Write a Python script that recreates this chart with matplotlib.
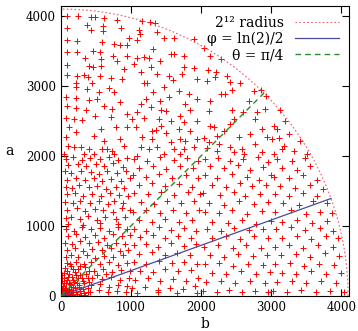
import numpy as np
import matplotlib
matplotlib.use("Agg")
import matplotlib.pyplot as plt

# --- data: b = horizontal, a = vertical ---
b_upper = [85, 246, 436, 488, 616, 796, 81, 370, 436, 607, 607, 863, 81, 237, 588, 758, 844, 948, 972,
           81, 228, 460, 559, 739, 948, 341, 578, 806, 81, 403, 465, 569, 901, 85, 228, 332, 389, 559,
           711, 877, 213, 450,
           1161, 1270, 1341, 1114, 1128, 1365, 1478, 1090, 1611, 1317, 1896, 1080, 1185, 1256, 1412,
           1564, 1611, 1753, 1042, 1279, 1753, 1896, 1137, 1374, 1540, 1730, 1602, 1185, 1232, 1943,
           2048, 2133, 2285, 2095, 2219, 2204, 2370, 2418, 2560, 2086,
           213, 379, 545, 687, 758, 71, 213, 403, 521, 844, 85, 213, 356, 616, 735, 71, 190, 308, 483,
           711, 948, 569, 782, 948, 118, 71, 213, 474, 616, 844, 95, 190, 284, 403, 593, 664, 735, 901,
           47, 332, 474, 758,
           1317, 1469, 1682, 1825, 1208, 1137, 1412, 1540, 1777, 1943, 1090, 1279, 1422, 1493, 1706,
           1848, 1019, 1185, 1398, 1564, 1753, 1943, 1066, 1303, 1351, 1422, 1493, 1682, 1848, 1161,
           1303, 1564, 1706, 1777, 1943, 1137, 1256, 1374, 1611, 1753, 1896, 1090, 1469, 1706,
           2133, 2285, 2347, 2441, 2749, 2678, 2441, 2110, 2915, 2797, 2133, 2181, 2418, 2465, 2593,
           2773, 2323, 2038, 2228, 2536, 2702, 2939, 2868, 2110, 2252, 2418, 2584, 2773, 2086, 2228,
           2465, 2607, 2868,
           3128, 3199, 3033, 3081, 3247, 3010, 3105, 3176, 3152, 3318, 3413, 3507, 3033,
           2854, 2929]
a_upper = [3991, 3991, 3981, 3981, 3967, 3943, 3819, 3872, 3800, 3848, 3786, 3824, 3648, 3643, 3619, 3596,
           3581, 3581, 3681, 3477, 3477, 3500, 3477, 3429, 3429, 3391, 3381, 3358, 3300, 3286, 3262,
           3286, 3239, 3153, 3143, 3153, 3129, 3134, 3105, 3096, 3039, 3039,
           3919, 3905, 3891, 3795, 3738, 3762, 3677, 3653, 3677, 3524, 3667, 3391, 3415, 3391, 3358,
           3453, 3453, 3419, 3310, 3262, 3262, 3248, 3191, 3167, 3134, 3167, 3086, 3039, 3039, 3096,
           3534, 3419, 3381, 3229, 3191, 3120, 3134, 3058, 3039, 3072,
           2977, 2953, 2915, 2963, 2906, 2834, 2820, 2801, 2811, 2773, 2715, 2677, 2658, 2715, 2668,
           2535, 2525, 2516, 2573, 2549, 2596, 2382, 2406, 2406, 2406, 2263, 2335, 2287, 2216, 2239,
           2144, 2120, 2120, 2097, 2097, 2097, 2073, 2144, 2025, 2025, 2025, 2025,
           2906, 2977, 2930, 2882, 2811, 2739, 2787, 2834, 2739, 2811, 2620, 2692, 2658, 2644, 2573,
           2658, 2525, 2535, 2525, 2501, 2477, 2501, 2406, 2358, 2368, 2430, 2325, 2382, 2358, 2263,
           2239, 2192, 2239, 2216, 2239, 2120, 2097, 2120, 2097, 2097, 2120, 2001, 2025, 2025,
           2787, 2882, 2882, 2944, 2930, 2787, 2658, 2644, 2668, 2620, 2430, 2406, 2454, 2525, 2630,
           2525, 2358, 2249, 2287, 2263, 2311, 2263, 2382, 2192, 2168, 2120, 2097, 2168, 2106, 2073,
           2049, 2025, 2049,
           2658, 2501, 2430, 2382, 2311, 2239, 2249, 2144, 2097, 2073, 2216, 2025, 2025,
           2944, 2848]

lower_points = [
    # b 0-1000, a 1000-2000
    (72, 1950), (180, 1985), (300, 1940), (420, 1975), (560, 1960), (690, 1990), (820, 1945), (950, 1970),
    (95, 1870), (240, 1890), (365, 1850), (500, 1880), (610, 1860), (745, 1895), (880, 1840),
    (65, 1780), (150, 1760), (290, 1790), (430, 1770), (540, 1740), (660, 1785), (800, 1755), (930, 1790),
    (88, 1660), (210, 1690), (340, 1650), (470, 1680), (590, 1640), (720, 1670), (860, 1640), (980, 1690),
    (70, 1560), (160, 1540), (260, 1580), (395, 1550), (520, 1570), (640, 1530), (780, 1560), (905, 1540),
    (92, 1450), (200, 1470), (320, 1430), (450, 1460), (575, 1420), (700, 1470), (830, 1440), (960, 1420),
    (66, 1340), (170, 1320), (280, 1360), (410, 1330), (540, 1350), (670, 1310), (760, 1350), (890, 1330),
    (85, 1230), (230, 1250), (350, 1210), (480, 1240), (600, 1220), (740, 1200), (870, 1250), (990, 1220),
    (72, 1110), (150, 1130), (270, 1100), (390, 1140), (510, 1090), (630, 1120), (780, 1100), (920, 1130),
    (95, 1030), (320, 1010), (560, 1040), (820, 1020),
    # b 1000-2000, a 1000-2000
    (1040, 1960), (1230, 1930), (1420, 1985), (1610, 1945), (1800, 1970), (1960, 1925),
    (1120, 1830), (1320, 1860), (1500, 1810), (1700, 1850), (1890, 1820),
    (1030, 1720), (1210, 1700), (1400, 1740), (1590, 1690), (1780, 1730), (1960, 1690),
    (1110, 1590), (1300, 1610), (1490, 1570), (1680, 1600), (1870, 1560),
    (1050, 1470), (1240, 1450), (1430, 1490), (1620, 1440), (1810, 1480), (1990, 1450),
    (1140, 1340), (1330, 1310), (1520, 1360), (1710, 1320), (1900, 1350),
    (1030, 1200), (1220, 1230), (1410, 1190), (1600, 1220), (1790, 1180), (1970, 1220),
    (1110, 1080), (1300, 1050), (1490, 1100), (1680, 1060), (1870, 1090),
    # b 2000-3000, a 1000-2000
    (2050, 1950), (2240, 1975), (2410, 1925), (2600, 1960), (2810, 1990), (2950, 1910),
    (2130, 1850), (2330, 1820), (2520, 1870), (2700, 1800), (2880, 1845),
    (2060, 1720), (2230, 1690), (2440, 1740), (2650, 1700), (2830, 1660), (2990, 1730),
    (2150, 1590), (2360, 1560), (2560, 1610), (2720, 1570), (2920, 1580),
    (2030, 1470), (2270, 1440), (2470, 1490), (2630, 1420), (2840, 1460),
    (2110, 1330), (2330, 1300), (2540, 1350), (2760, 1310), (2950, 1340),
    (2060, 1200), (2250, 1180), (2440, 1220), (2660, 1170), (2870, 1210),
    (2150, 1060), (2380, 1040), (2580, 1080), (2790, 1030), (2990, 1070),
    # b 3000-4100, a 1000-2000
    (3080, 1960), (3290, 1930), (3480, 1975),
    (3150, 1830), (3370, 1800), (3560, 1850),
    (3040, 1700), (3250, 1680), (3460, 1720), (3660, 1650),
    (3130, 1570), (3340, 1540), (3550, 1590), (3740, 1520),
    (3060, 1450), (3260, 1420), (3460, 1470), (3650, 1430),
    (3170, 1320), (3390, 1300), (3600, 1350), (3800, 1320),
    (3050, 1200), (3280, 1220), (3490, 1170), (3700, 1200), (3870, 1180),
    (3150, 1060), (3370, 1080), (3580, 1040), (3790, 1070),
    # b 0-1000, a 0-1000 (outer part)
    (70, 960), (190, 930), (300, 980), (430, 950), (560, 970), (690, 930), (820, 990), (950, 950),
    (95, 860), (220, 880), (350, 840), (480, 870), (610, 830), (740, 880), (870, 850), (990, 870),
    (60, 760), (160, 740), (280, 780), (400, 750), (530, 770), (660, 730), (790, 760), (920, 740),
    (85, 660), (200, 680), (320, 640), (450, 670), (580, 650), (710, 690), (840, 640), (960, 660),
    (70, 560), (140, 590), (250, 550), (370, 580), (490, 540), (620, 570), (750, 550), (880, 580),
    (90, 470), (210, 490), (330, 450), (430, 480), (560, 460), (690, 480), (820, 440), (950, 470),
    (470, 360), (600, 380), (730, 340), (860, 370), (980, 350), (520, 300), (650, 310),
    (450, 260), (580, 240), (710, 270), (840, 230), (970, 260),
    (430, 150), (560, 170), (690, 130), (820, 160), (950, 140),
    (420, 60), (540, 80), (670, 50), (800, 70), (930, 60),
    # b 0-450, a 0-450 (dense cluster at the origin)
    (60, 400), (150, 420), (250, 380), (340, 410), (400, 360),
    (50, 330), (120, 310), (200, 340), (280, 300), (360, 320),
    (40, 250), (100, 270), (170, 230), (240, 260), (310, 220), (380, 250),
    (70, 190), (130, 170), (190, 200), (260, 160), (330, 180), (400, 200),
    (30, 140), (80, 120), (140, 150), (200, 110), (260, 130), (320, 100), (380, 120),
    (50, 80), (100, 60), (150, 90), (210, 50), (270, 70), (330, 40), (390, 60),
    (30, 40), (60, 30), (90, 20), (130, 35), (170, 15), (230, 25), (290, 15), (350, 20),
    (20, 100), (15, 60), (10, 25), (25, 15), (45, 10), (70, 8), (110, 10),
    (40, 180), (20, 220), (90, 230), (110, 190), (160, 270), (220, 300), (300, 260),
    (60, 120), (120, 100), (40, 60), (80, 90), (160, 60), (180, 130), (230, 180),
    (20, 300), (90, 350), (180, 380), (270, 420), (130, 450),
    (35, 25), (55, 45), (75, 65), (25, 75), (95, 40), (115, 70), (140, 30),
    # b 1000-2000, a 0-1000
    (1050, 960), (1220, 930), (1400, 980), (1570, 940), (1750, 970), (1930, 925),
    (1130, 840), (1310, 870), (1490, 820), (1670, 860), (1850, 830),
    (1040, 720), (1210, 740), (1390, 700), (1570, 750), (1750, 710), (1930, 740),
    (1120, 600), (1300, 620), (1480, 580), (1660, 610), (1840, 590),
    (1040, 480), (1220, 460), (1400, 500), (1580, 470), (1760, 490), (1940, 450),
    (1130, 360), (1310, 340), (1490, 380), (1670, 350), (1850, 370),
    (1060, 230), (1240, 250), (1420, 210), (1600, 240), (1780, 220), (1960, 260),
    (1020, 110), (1200, 130), (1380, 90), (1560, 120), (1740, 100), (1920, 140),
    (1090, 40), (1380, 50), (1650, 35), (1940, 45),
    # b 2000-3000, a 0-1000
    (2080, 960), (2280, 930), (2470, 975), (2680, 940), (2880, 960),
    (2150, 830), (2350, 860), (2560, 810), (2760, 850), (2960, 820),
    (2040, 700), (2240, 720), (2450, 690), (2640, 730), (2850, 690),
    (2120, 580), (2330, 560), (2530, 600), (2740, 570), (2940, 590),
    (2060, 450), (2260, 470), (2460, 430), (2670, 460), (2880, 440),
    (2150, 330), (2360, 310), (2570, 350), (2780, 320), (2980, 340),
    (2070, 200), (2280, 220), (2490, 180), (2700, 210), (2910, 190),
    (2030, 70), (2220, 55), (2400, 80), (2590, 50), (2770, 75), (2950, 60),
    # b 3000-4100, a 0-1000
    (3070, 950), (3280, 980), (3480, 935), (3690, 965), (3880, 930),
    (3160, 830), (3370, 860), (3570, 815), (3780, 850), (3950, 820),
    (3050, 700), (3260, 730), (3460, 690), (3670, 720), (3880, 700),
    (3140, 580), (3350, 600), (3560, 560), (3770, 610), (3960, 570),
    (3060, 450), (3270, 470), (3470, 430), (3680, 460), (3890, 440),
    (3150, 330), (3360, 310), (3570, 350), (3780, 320), (3990, 330),
    (3080, 200), (3290, 220), (3500, 180), (3710, 210), (3920, 190),
    (3030, 70), (3230, 60), (3430, 80), (3640, 50), (3840, 75), (4040, 60),
]

radius = 2 ** 12
phi = np.log(2) / 2
theta = np.pi / 4
ticks = [0, 1000, 2000, 3000, 4000]
legend_labels = ['2¹² radius', 'φ = ln(2)/2', 'θ = π/4']

b_lower = [p[0] for p in lower_points]
a_lower = [p[1] for p in lower_points]
b_vals = b_upper + b_lower
a_vals = a_upper + a_lower

plt.rcParams['font.family'] = ['DejaVu Serif']

fig = plt.figure(figsize=(3.58, 3.31), dpi=100)
ax = fig.add_axes([0.170, 0.106, 0.805, 0.876])

ax.plot(b_vals, a_vals, linestyle='none', marker='+', markersize=4.5,
        markeredgewidth=0.7, color='#ff0000', zorder=2)

t = np.linspace(0, np.pi / 2, 400)
ax.plot(radius * np.cos(t), radius * np.sin(t), linestyle=(0, (1.5, 2)),
        color='#e8606a', linewidth=0.8, label=legend_labels[0], zorder=3)
ax.plot([0, radius * np.cos(phi)], [0, radius * np.sin(phi)], color='#4a4a9c',
        linewidth=0.9, label=legend_labels[1], zorder=3)
ax.plot([0, radius * np.cos(theta)], [0, radius * np.sin(theta)], color='#2a8a2a',
        linewidth=1.0, linestyle=(0, (4, 3)), label=legend_labels[2], zorder=3)

ax.set_xlim(0, 4110)
ax.set_ylim(0, 4140)
ax.set_xticks(ticks)
ax.set_yticks(ticks)
ax.tick_params(direction='in', length=5, width=0.8, top=True, right=True, labelsize=8.5)
for s in ax.spines.values():
    s.set_linewidth(0.8)
ax.set_xlabel('b', fontsize=10, labelpad=2)
ax.set_ylabel('a', fontsize=10, rotation=0, labelpad=12, va='center')

leg = ax.legend(loc='upper right', frameon=False, markerfirst=False, fontsize=10,
                handlelength=3.2, borderaxespad=0.5, labelspacing=0.15, handletextpad=0.8,
                borderpad=0.2)

fig.savefig('out.png', dpi=100)
